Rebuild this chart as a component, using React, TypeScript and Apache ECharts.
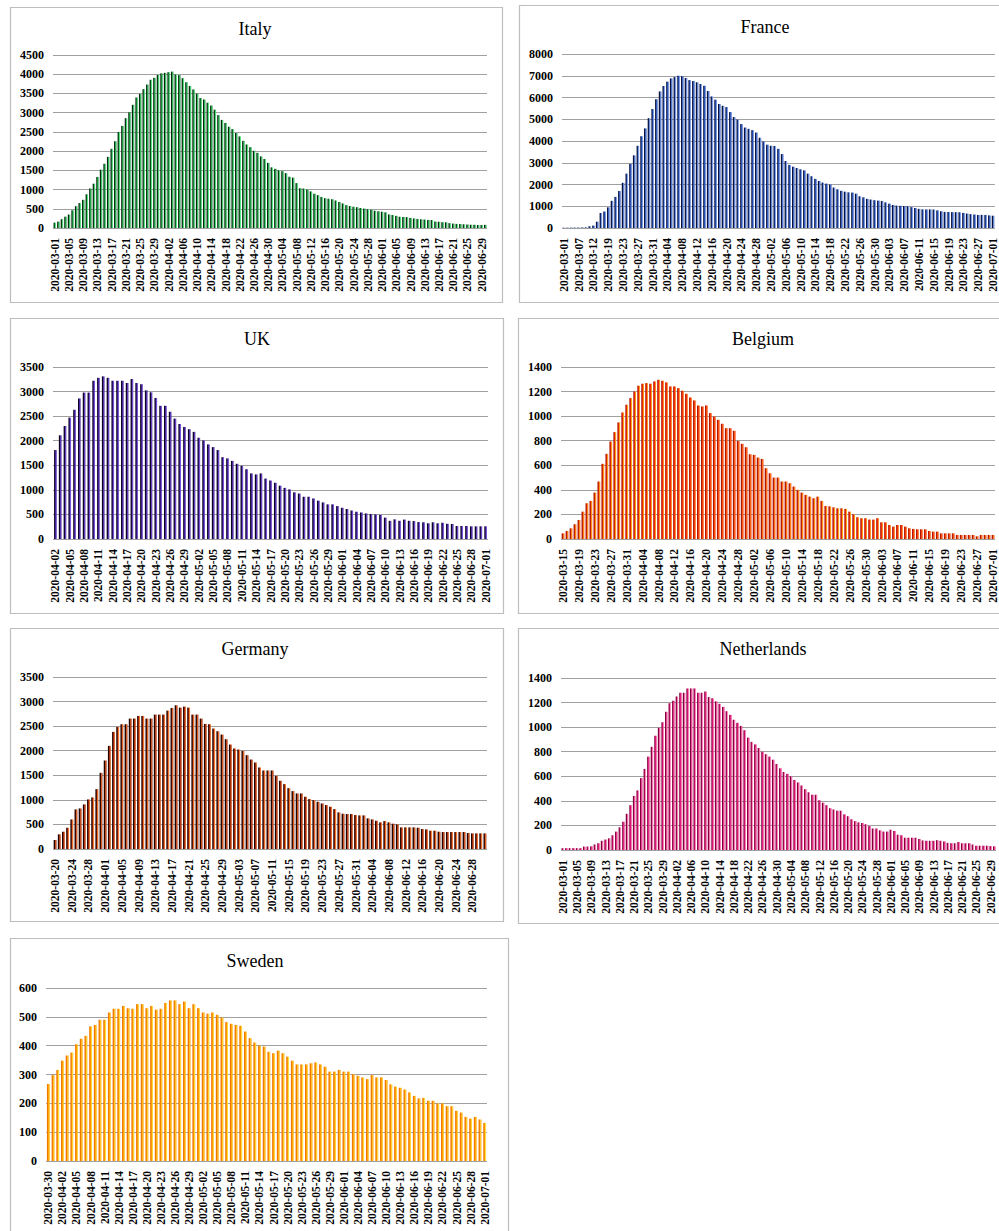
import React, { useEffect, useRef } from "react";
import * as echarts from "echarts";

function days(start: string, end: string): string[] {
  const out: string[] = [];
  const d = new Date(start + "T00:00:00Z");
  const e = new Date(end + "T00:00:00Z");
  while (d.getTime() <= e.getTime()) {
    out.push(d.toISOString().slice(0, 10));
    d.setUTCDate(d.getUTCDate() + 1);
  }
  return out;
}

const italyDates = days("2020-03-01", "2020-06-30");
const italyValues = [
  140, 166, 229, 295, 351, 462, 567, 650, 733, 877, 1028, 1153, 1328, 1518, 1672, 1851, 2060, 2257, 2498, 2655,
  2857, 3009, 3204, 3396, 3489, 3612, 3732, 3856, 3906, 3981, 4023,
  4035, 4053, 4068, 3994, 3977, 3898, 3792, 3693, 3605, 3497, 3381, 3343, 3260, 3186, 3079, 2936, 2812, 2733, 2635, 2573,
  2471, 2384, 2267, 2173, 2102, 2009, 1956, 1863, 1795, 1694,
  1578, 1539, 1501, 1479, 1427, 1333, 1311, 1168, 1034, 1027, 999, 952, 893, 855, 808, 775, 762, 749, 716, 676,
  640, 595, 572, 553, 541, 521, 505, 489, 475, 450, 435,
  424, 408, 353, 338, 316, 293, 287, 283, 263, 249, 236, 227, 220, 209, 207, 168, 163, 152, 148, 127,
  115, 107, 103, 97, 91, 85, 84, 77, 79, 82,
];

const franceDates = [
  "2020-03-01", "2020-03-02", "2020-03-03", "2020-03-04", "2020-03-07", "2020-03-08",
  "2020-03-09", "2020-03-10", "2020-03-12", "2020-03-15", "2020-03-17", "2020-03-18",
  ...days("2020-03-19", "2020-07-01"),
];
const franceValues = [
  15, 15, 18, 20, 22, 25, 30, 80, 110, 290, 690, 760,
  950, 1250, 1430, 1700, 2080, 2500, 2950, 3340, 3780, 4220, 4580, 5050, 5470,
  5920, 6280, 6530, 6730, 6880, 6940, 7000, 6980, 6900, 6800, 6760, 6700, 6620, 6540, 6300, 6050, 5900, 5700, 5620, 5560,
  5330, 5100, 4990, 4780, 4620, 4560, 4500, 4390, 4150, 3980,
  3830, 3780, 3770, 3640, 3400, 3080, 2900, 2820, 2760, 2700, 2650, 2500, 2380, 2260, 2160, 2090, 2040, 2000, 1860, 1780,
  1710, 1670, 1640, 1630, 1580, 1460, 1410, 1340, 1310, 1280, 1260,
  1240, 1180, 1120, 1060, 1030, 1020, 1010, 1000, 960, 920, 880, 860, 855, 855, 850, 810, 770, 740, 735, 730,
  730, 725, 695, 665, 640, 620, 600, 605, 600, 580,
  565,
];

const ukDates = days("2020-04-02", "2020-07-01");
const ukValues = [
  1810, 2110, 2300, 2470, 2630, 2860, 2980, 2980, 3220, 3280,
  3310, 3280, 3220, 3220, 3220, 3175, 3255, 3175, 3150, 3025,
  2985, 2870, 2710, 2710, 2590, 2450, 2340, 2280, 2235, 2180,
  2060, 2005, 1925, 1870, 1810, 1665, 1640, 1590, 1530, 1490,
  1420, 1335, 1315, 1335, 1230, 1190, 1145, 1085, 1040, 1010,
  950, 925, 860, 860, 825, 780, 745, 705, 705, 670,
  635, 610, 580, 555, 540, 520, 510, 500, 490, 435,
  370, 400, 370, 395, 370, 365, 345, 340, 320, 340,
  320, 330, 310, 305, 265, 265, 265, 258, 258, 258,
  258,
];

const belgiumDates = days("2020-03-15", "2020-07-01");
const belgiumValues = [
  46, 65, 87, 120, 155, 223, 291, 310, 378, 468,
  612, 693, 794, 870, 949, 1030, 1093, 1147, 1201, 1248,
  1264, 1269, 1264, 1283, 1296, 1288, 1275, 1242, 1242, 1228,
  1207, 1182, 1152, 1128, 1087, 1079, 1087, 1025, 997, 970,
  938, 902, 902, 881, 799, 775, 747, 690, 685, 663,
  652, 576, 535, 500, 500, 468, 468, 454, 427, 400,
  378, 359, 345, 332, 345, 310, 269, 266, 258, 250,
  250, 245, 223, 201, 177, 169, 169, 158, 158, 169,
  136, 136, 114, 101, 114, 114, 101, 87, 82, 79,
  79, 79, 65, 60, 60, 46, 46, 46, 46, 33,
  33, 33, 33, 33, 22, 33, 33, 33, 33,
];

const germanyDates = days("2020-03-20", "2020-07-01");
const germanyValues = [
  183, 298, 352, 433, 602, 806, 826, 907, 1009, 1049,
  1219, 1550, 1801, 2099, 2383, 2485, 2539, 2539, 2654, 2654,
  2708, 2708, 2654, 2654, 2735, 2735, 2735, 2816, 2870, 2925,
  2877, 2898, 2877, 2735, 2735, 2654, 2546, 2539, 2451, 2397,
  2329, 2234, 2126, 2045, 2024, 1997, 1909, 1821, 1760, 1659,
  1598, 1598, 1598, 1489, 1388, 1320, 1239, 1178, 1131, 1131,
  1063, 1016, 995, 961, 927, 894, 860, 812, 745, 718,
  711, 711, 691, 684, 684, 623, 602, 575, 542, 569,
  542, 515, 501, 440, 440, 440, 440, 433, 406, 399,
  372, 372, 352, 345, 345, 345, 345, 345, 345, 325,
  318, 318, 318, 318,
];

const netherlandsDates = days("2020-03-01", "2020-06-30");
const netherlandsValues = [
  15, 15, 15, 15, 15, 15, 28, 28, 30, 45,
  55, 75, 85, 95, 120, 150, 185, 230, 295, 365,
  440, 485, 585, 660, 760, 840, 930, 995, 1040, 1125,
  1195, 1215, 1250, 1280, 1280, 1315, 1315, 1315, 1280, 1280,
  1290, 1245, 1235, 1210, 1190, 1165, 1130, 1100, 1060, 1035,
  1010, 975, 915, 880, 860, 830, 800, 780, 760, 735,
  700, 665, 635, 620, 600, 570, 550, 525, 495, 470,
  450, 450, 405, 385, 365, 340, 330, 320, 320, 290,
  275, 250, 235, 225, 220, 210, 195, 175, 175, 160,
  150, 150, 165, 155, 125, 120, 100, 100, 100, 100,
  90, 78, 75, 75, 75, 80, 75, 70, 58, 55,
  55, 65, 55, 55, 55, 45, 35, 35, 35, 35,
  32, 30,
];

const swedenDates = days("2020-03-30", "2020-07-01");
const swedenValues = [
  267, 298, 316, 348, 366, 376, 405, 424, 434, 467,
  472, 490, 490, 515, 528, 528, 538, 530, 528, 544,
  544, 530, 538, 525, 528, 548, 557, 557, 544, 553,
  530, 544, 530, 515, 511, 515, 507, 498, 482, 476,
  472, 469, 449, 426, 411, 400, 397, 379, 374, 383,
  374, 362, 348, 335, 335, 335, 339, 342, 335, 327,
  310, 310, 316, 310, 310, 301, 296, 290, 284, 298,
  290, 290, 281, 266, 258, 254, 248, 238, 226, 217,
  219, 209, 209, 200, 200, 190, 190, 174, 168, 153,
  147, 153, 144, 132,
];

const FONT = '"Liberation Serif", "Times New Roman", serif';

type Panel = {
  title: string;
  dates: string[];
  values: number[];
  max: number;
  step: number;
  labelEvery: number;
  grid: { left: number; top: number; width: number; height: number };
  box: [number, number, number, number];
  titlePos: [number, number];
  colors: [string, string, string];
  gap: string;
};

const panels: Panel[] = [
  {
    title: "Italy", dates: italyDates, values: italyValues, max: 4500, step: 500, labelEvery: 3,
    grid: { left: 53, top: 55, width: 434, height: 173 }, box: [10.5, 7.5, 492, 295], titlePos: [255, 29],
    colors: ["#06280c", "#178a38", "#55e884"], gap: "32%",
  },
  {
    title: "France", dates: franceDates, values: franceValues, max: 8000, step: 1000, labelEvery: 3,
    grid: { left: 562, top: 54, width: 436, height: 174 }, box: [519.5, 5.5, 500, 297], titlePos: [765, 27],
    colors: ["#08123c", "#1f48b0", "#8aa8ee"], gap: "32%",
  },
  {
    title: "UK", dates: ukDates, values: ukValues, max: 3500, step: 500, labelEvery: 2,
    grid: { left: 53, top: 367, width: 435, height: 172 }, box: [10.5, 318.5, 493, 295], titlePos: [257, 339],
    colors: ["#0c0322", "#3d1a90", "#7a55e0"], gap: "45%",
  },
  {
    title: "Belgium", dates: belgiumDates, values: belgiumValues, max: 1400, step: 200, labelEvery: 3,
    grid: { left: 561, top: 367, width: 435, height: 172 }, box: [518.5, 318.5, 500, 295], titlePos: [763, 339],
    colors: ["#b01804", "#f52a08", "#ffa818"], gap: "32%",
  },
  {
    title: "Germany", dates: germanyDates, values: germanyValues, max: 3500, step: 500, labelEvery: 3,
    grid: { left: 53, top: 677, width: 434, height: 172 }, box: [10.5, 628.5, 493, 293], titlePos: [255, 649],
    colors: ["#200300", "#95220a", "#ff8030"], gap: "32%",
  },
  {
    title: "Netherlands", dates: netherlandsDates, values: netherlandsValues, max: 1400, step: 200, labelEvery: 3,
    grid: { left: 561, top: 678, width: 435, height: 172 }, box: [518.5, 628.5, 500, 295], titlePos: [763, 649],
    colors: ["#80003a", "#e01274", "#ff90c4"], gap: "32%",
  },
  {
    title: "Sweden", dates: swedenDates, values: swedenValues, max: 600, step: 100, labelEvery: 2,
    grid: { left: 46, top: 988, width: 441, height: 173 }, box: [10.5, 938.5, 498, 300], titlePos: [255, 961],
    colors: ["#f07a00", "#ff9c00", "#ffe040"], gap: "40%",
  },
];

export default function App() {
  const ref = useRef<HTMLDivElement>(null);
  useEffect(() => {
    if (!ref.current) return;
    const chart = echarts.init(ref.current, undefined, { renderer: "svg" });
    const graphics: any[] = [];
    panels.forEach((p) => {
      graphics.push({
        type: "rect",
        shape: { x: p.box[0], y: p.box[1], width: p.box[2], height: p.box[3] },
        style: { fill: "none", stroke: "#bdbdbd", lineWidth: 1.2 },
        silent: true,
      });
      graphics.push({
        type: "text",
        x: p.titlePos[0],
        y: p.titlePos[1],
        style: {
          text: p.title,
          fontSize: 18,
          fontFamily: FONT,
          fill: "#000",
          align: "center",
          verticalAlign: "middle",
        },
        silent: true,
      });
    });
    chart.setOption({
      animation: false,
      backgroundColor: "#fff",
      grid: panels.map((p) => ({ ...p.grid, containLabel: false })),
      xAxis: panels.map((p, i) => ({
        type: "category",
        gridIndex: i,
        data: p.dates,
        axisLine: { show: false },
        axisTick: { show: false },
        axisLabel: {
          rotate: 90,
          interval: p.labelEvery,
          fontSize: 11.5,
          fontWeight: "bold",
          fontFamily: FONT,
          color: "#000",
          margin: 10,
        },
      })),
      yAxis: panels.map((p, i) => ({
        type: "value",
        gridIndex: i,
        min: 0,
        max: p.max,
        interval: p.step,
        axisLine: { show: false },
        axisTick: { show: false },
        axisLabel: {
          fontSize: 12,
          fontWeight: "bold",
          fontFamily: FONT,
          color: "#000",
          margin: 9,
          formatter: (v: number) => String(v),
        },
        splitLine: { lineStyle: { color: "#a0a0a0", width: 1 } },
      })),
      series: panels.map((p, i) => ({
        type: "bar",
        name: p.title,
        xAxisIndex: i,
        yAxisIndex: i,
        data: p.values,
        barCategoryGap: p.gap,
        itemStyle: {
          color: new echarts.graphic.LinearGradient(0, 0, 1, 0, [
            { offset: 0, color: p.colors[0] },
            { offset: 0.3, color: p.colors[0] },
            { offset: 0.5, color: p.colors[1] },
            { offset: 0.8, color: p.colors[2] },
            { offset: 1, color: p.colors[1] },
          ]),
        },
      })),
      graphic: graphics,
    });
    return () => chart.dispose();
  }, []);
  return (
    <div
      ref={ref}
      style={{ position: "absolute", left: 0, top: 0, width: 999, height: 1231, background: "#fff" }}
    />
  );
}
